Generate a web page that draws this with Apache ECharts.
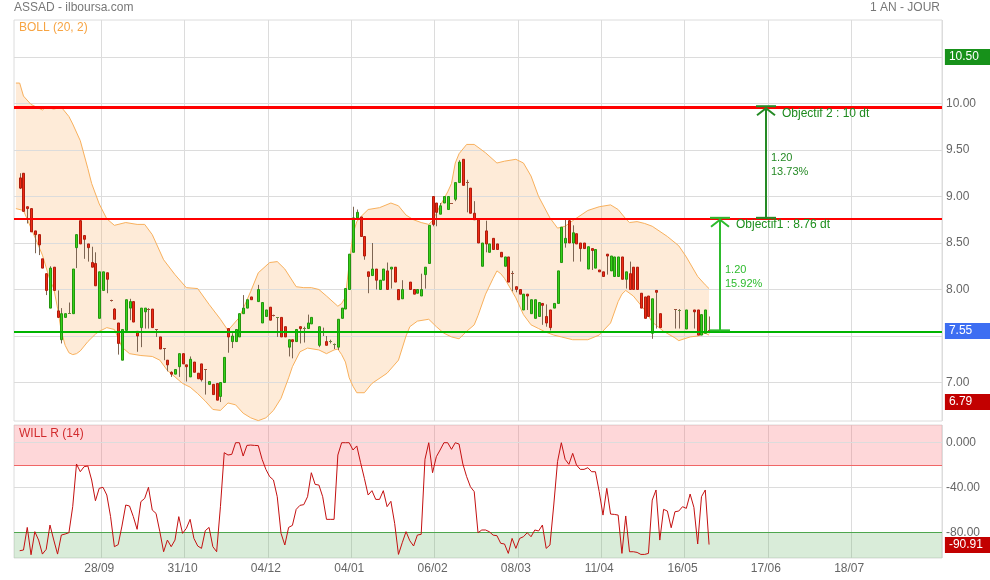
<!DOCTYPE html>
<html><head><meta charset="utf-8">
<script src="https://cdn.jsdelivr.net/npm/echarts@6/dist/echarts.min.js"></script>
<style>html,body{margin:0;padding:0;background:#fff}#c{width:990px;height:580px}</style>
</head><body><div id="c"></div>
<script>
// ---------- DATA ----------
const tickLabels = ['28/09','31/10','04/12','04/01','06/02','08/03','11/04','16/05','17/06','18/07'];
const tickStep = 22;            // one date label every 22 sessions
const slotCount = 245;          // sessions shown on the axis (incl. future)
const categories = Array.from({length: slotCount}, (_, i) => String(i));

// [open, close, low, high] per session, null = no bar
const candles = [
 null,
 [9.20,9.09,9.08,9.25],[9.25,8.84,8.84,9.25],[8.89,8.87,8.71,8.89],[8.87,8.62,8.62,8.87],[8.63,8.59,8.39,8.63],
 [8.59,8.48,8.37,8.59],[8.33,8.23,8.23,8.33],[8.17,7.99,7.94,8.17],[7.80,8.23,7.80,8.25],[8.24,7.99,7.99,8.24],
 [7.77,7.70,7.70,7.99],[7.46,7.74,7.42,7.80],[7.70,7.74,7.70,7.74],[7.75,7.75,7.74,7.86],[7.74,8.22,7.74,8.22],
 [8.45,8.59,8.23,8.59],[8.74,8.49,8.49,8.75],[8.58,8.54,8.33,8.58],[8.49,8.45,8.30,8.49],[8.29,8.24,8.24,8.46],
 [8.28,8.04,8.04,8.40],[7.69,8.19,7.69,8.19],[7.99,8.19,7.99,8.19],[8.18,8.11,7.96,8.18],[7.89,7.88,7.87,7.89],
 [7.79,7.68,7.68,7.80],[7.64,7.42,7.30,7.64],[7.24,7.57,7.24,7.57],[7.56,7.89,7.56,7.89],[7.80,7.87,7.67,7.90],
 [7.87,7.65,7.65,7.87],[7.55,7.50,7.33,7.55],[7.59,7.80,7.38,7.80],[7.76,7.80,7.58,7.80],[7.79,7.78,7.58,7.80],
 [7.79,7.59,7.59,7.79],[7.57,7.56,7.49,7.57],[7.49,7.36,7.36,7.49],[7.37,7.36,7.24,7.37],[7.24,7.19,7.12,7.24],
 [7.11,7.09,7.06,7.12],[7.09,7.14,7.09,7.14],[7.17,7.31,7.06,7.31],[7.31,7.20,7.20,7.31],[7.19,7.17,7.01,7.19],
 [7.06,7.25,7.06,7.28],[7.22,7.11,7.11,7.22],[7.10,7.04,7.04,7.10],[7.20,7.03,7.01,7.20],[7.14,7.13,6.87,7.14],
 [6.98,7.01,6.98,7.01],[6.98,6.87,6.87,6.98],[6.99,6.81,6.81,6.99],[6.85,7.00,6.79,7.00],[7.00,7.27,7.00,7.27],
 [7.58,7.49,7.32,7.58],[7.44,7.50,7.37,7.53],[7.44,7.57,7.44,7.57],[7.49,7.74,7.49,7.74],[7.74,7.80,7.74,7.94],
 [7.80,7.89,7.80,7.89],[7.92,7.89,7.89,7.92],null,[7.87,8.00,7.87,8.05],[7.64,7.86,7.64,7.86],
 [7.71,7.78,7.71,7.78],[7.81,7.67,7.67,7.81],[7.73,7.72,7.71,7.73],[7.69,7.70,7.49,7.70],[7.70,7.49,7.49,7.70],
 [7.60,7.49,7.49,7.60],[7.38,7.46,7.28,7.46],[7.46,7.44,7.26,7.46],[7.44,7.57,7.44,7.57],[7.60,7.58,7.42,7.60],
 [7.59,7.59,7.43,7.60],[7.58,7.64,7.58,7.73],[7.63,7.70,7.63,7.70],null,[7.40,7.60,7.38,7.60],
 [7.55,7.55,7.50,7.59],[7.44,7.40,7.40,7.50],[7.45,7.45,7.42,7.46],[7.41,7.41,7.36,7.42],[7.38,7.68,7.35,7.68],
 [7.69,7.80,7.69,7.80],[7.79,8.01,7.79,8.01],[8.00,8.38,8.00,8.38],[8.40,8.77,8.40,8.89],[8.77,8.83,8.77,8.86],
 [8.78,8.57,8.57,8.78],[8.57,8.36,8.32,8.57],[8.19,8.14,7.96,8.19],[8.15,8.22,8.15,8.50],[8.22,8.10,8.00,8.22],
 [8.00,8.10,8.00,8.10],[8.10,8.22,8.10,8.22],[8.20,8.00,8.00,8.29],[8.22,8.24,8.01,8.24],[8.24,8.08,8.08,8.24],
 [8.00,7.89,7.89,8.00],[7.90,8.00,7.90,8.10],null,[8.08,8.00,8.00,8.08],[8.00,7.95,7.95,8.00],
 [7.96,8.00,7.96,8.00],[7.93,8.00,7.93,8.17],[8.16,8.24,8.01,8.24],[8.28,8.69,8.28,8.69],[9.00,8.70,8.68,9.00],
 [8.93,8.83,8.68,8.93],[8.81,8.90,8.81,8.93],[8.93,9.00,8.93,9.00],[8.86,9.00,8.86,9.00],[8.93,8.92,8.92,8.93],
 [8.97,9.15,8.95,9.15],[9.15,9.37,9.15,9.39],[9.40,9.12,9.12,9.40],[9.16,9.15,8.83,9.18],[9.09,8.82,8.82,9.09],
 [8.82,8.75,8.75,8.95],[8.75,8.50,8.50,8.75],[8.25,8.50,8.25,8.50],[8.63,8.49,8.40,8.74],[8.40,8.49,8.40,8.49],
 [8.55,8.43,8.43,8.55],[8.49,8.43,8.43,8.49],[8.40,8.35,8.35,8.40],[8.25,8.35,8.25,8.35],[8.35,8.08,8.08,8.35],
 [8.18,8.17,7.98,8.20],[8.03,8.00,7.97,8.03],[8.00,7.95,7.95,8.00],[7.78,7.95,7.78,7.95],[7.95,7.93,7.78,7.95],
 [7.74,7.89,7.74,7.89],[7.69,7.89,7.69,7.89],[7.71,7.86,7.71,7.86],[7.85,7.83,7.62,7.85],[7.71,7.64,7.60,7.84],
 [7.78,7.59,7.56,7.78],[7.80,7.85,7.80,7.85],[7.85,8.20,7.85,8.20],[8.29,8.67,8.29,8.67],[8.50,8.55,8.45,8.76],
 [8.74,8.50,8.50,8.76],[8.50,8.61,8.30,8.69],[8.60,8.49,8.49,8.60],[8.50,8.44,8.30,8.50],[8.50,8.44,8.44,8.50],
 [8.22,8.46,8.22,8.46],[8.44,8.42,8.21,8.44],[8.23,8.43,8.23,8.43],[8.21,8.19,8.19,8.21],[8.19,8.14,8.14,8.19],
 [8.38,8.36,8.16,8.38],[8.20,8.36,8.20,8.36],[8.14,8.35,8.14,8.35],[8.14,8.35,8.14,8.35],[8.35,8.11,8.11,8.35],
 [8.11,8.19,8.01,8.19],[8.17,8.00,8.00,8.30],[8.24,8.00,8.00,8.24],[8.24,8.00,8.00,8.24],[7.96,7.80,7.80,7.96],
 [7.92,7.69,7.69,7.92],[7.93,7.71,7.71,7.93],[7.53,7.90,7.47,7.90],[7.99,7.97,7.58,7.99],[7.74,7.59,7.59,7.74],
 null,null,null,[7.79,7.78,7.58,7.79],[7.78,7.78,7.58,7.79],
 null,[7.575,7.78,7.575,7.78],null,[7.78,7.76,7.58,7.78],[7.78,7.51,7.51,7.78],
 [7.51,7.73,7.51,7.73],[7.53,7.78,7.53,7.78],[7.56,7.55,7.53,7.71]
];

// Bollinger (20, 2) band edges: [session, value]
const bollUpper = [[0,10.22],[1,10.22],[2,10.08],[4,9.99],[7,9.93],[8,9.96],[10,9.94],[12,9.96],[14,9.86],[15,9.78],
 [17,9.60],[19,9.30],[20,9.14],[22,8.92],[24,8.76],[26,8.69],[29,8.72],[32,8.70],[34,8.70],[36,8.59],[39,8.32],
 [42,8.16],[45,8.02],[48,8.01],[51,7.84],[54,7.68],[56,7.56],[59,7.70],[62,7.98],[64,8.18],[67,8.29],[69,8.30],
 [71,8.22],[74,8.03],[76,8.02],[78,8.02],[80,8.00],[82,7.93],[85,7.82],[86,7.85],[87,7.92],[88,8.28],[89,8.60],
 [90,8.73],[91,8.78],[93,8.86],[96,8.88],[99,8.93],[101,8.90],[103,8.80],[105,8.75],[107,8.72],[109,8.70],
 [110,8.74],[112,8.90],[114,9.05],[115,9.14],[116,9.36],[117,9.46],[119,9.56],[121,9.56],[124,9.47],[127,9.36],
 [129,9.38],[132,9.40],[134,9.36],[136,9.22],[138,9.00],[141,8.77],[143,8.66],[145,8.68],[147,8.74],[151,8.85],
 [154,8.89],[157,8.91],[159,8.86],[161,8.76],[162,8.72],[164,8.73],[166,8.71],[168,8.68],[172,8.57],[175,8.47],
 [177,8.35],[180,8.14],[182,8.05],[183,8.01]];
const bollLower = [[0,8.87],[2,8.85],[4,8.66],[7,8.37],[9,8.10],[10,8.01],[11,7.80],[12,7.55],[13,7.40],[14,7.32],
 [15,7.30],[16,7.31],[17,7.34],[19,7.44],[21,7.52],[22,7.55],[24,7.59],[26,7.57],[27,7.48],[28,7.38],[30,7.31],
 [33,7.29],[36,7.28],[38,7.24],[40,7.13],[42,7.06],[44,6.99],[46,6.95],[48,6.88],[50,6.80],[52,6.71],[54,6.70],
 [56,6.78],[58,6.76],[60,6.67],[62,6.62],[64,6.59],[66,6.62],[68,6.70],[70,6.83],[72,7.05],[73,7.17],[75,7.33],
 [77,7.37],[80,7.35],[82,7.31],[84,7.35],[85,7.36],[86,7.30],[87,7.22],[88,7.05],[89,6.96],[90,6.89],[92,6.89],
 [94,6.99],[98,7.10],[101,7.24],[103,7.50],[104,7.60],[106,7.66],[109,7.68],[111,7.60],[113,7.53],[115,7.49],
 [117,7.47],[119,7.55],[121,7.62],[122,7.72],[124,7.95],[126,8.12],[127,8.20],[128,8.17],[129,8.12],[131,7.98],
 [132,7.91],[134,7.73],[136,7.62],[138,7.58],[140,7.54],[142,7.51],[144,7.49],[147,7.46],[151,7.46],[154,7.51],
 [157,7.64],[159,7.87],[160,7.95],[161,7.99],[163,7.93],[166,7.78],[168,7.65],[171,7.55],[174,7.48],[175,7.45],
 [178,7.49],[180,7.50],[182,7.53],[183,7.51]];

// Williams %R (14), one value per session
const willR = [null,
 -96.4,-95.8,-75.6,-100,-79.4,-86.9,-99.4,-95.2,-73.5,-86.9,-99.4,-82.4,-81.5,-80.3,-57.1,-19.0,-25.9,-21.4,-20.8,-33.3,
 -51.8,-40.7,-39.8,-46.7,-66.0,-92.8,-91.0,-74.4,-55.6,-56.5,-66.0,-77.3,-52.6,-49.7,-39.8,-60.1,-63.1,-79.4,-97.3,-86.9,
 -92.8,-86.9,-66.0,-80.9,-76.5,-68.4,-85.4,-92.2,-94.3,-78.5,-75.6,-92.8,-97.3,-57.1,-8.9,-11.0,-10.4,0,0,-11.9,
 -2.4,-2.1,-2.4,-2.6,-14.8,-23.8,-30.3,-33.3,-48.2,-80.9,-91.3,-75.6,-73.8,-59.5,-55.9,-55.3,-48.2,-26.8,-37.2,-37.8,
 -48.2,-68.4,-68.4,-68.4,-11.0,0,0,0,-6.5,-2.9,-17.8,-31.8,-46.7,-42.8,-50.6,-50.6,-42.8,-57.1,-52.3,-72.0,
 -99.7,-89.3,-79.4,-87.5,-92.2,-82.4,-81.8,-14.8,0,-26.8,-12.5,-6.5,0,0,-5.9,0,-1.2,-19.0,-30.3,-39.3,
 -43.7,-80.3,-77.9,-77.9,-79.5,-82.5,-83.0,-89.8,-90.4,-98.8,-85.4,-94.3,-85.4,-83.9,-80.3,-83.9,-77.9,-78.8,-73.5,-94.3,
 -91.3,-55.6,-16.9,0,-14.8,-19.3,-9.5,-19.9,-23.8,-23.8,-22.3,-25.9,-25.9,-43.7,-64.6,-40.7,-63.7,-64.0,-64.6,-98.8,
 -65.4,-97.3,-97.3,-97.9,-99.7,-99.7,-98.8,-51.2,-42.2,-86.9,-59.5,-61.0,-75.9,-61.6,-61.0,-57.1,-58.6,-45.8,-57.7,-90.4,
 -48.2,-42.2,-90.91];

const priceTicks = [7.00, 7.50, 8.00, 8.50, 9.00, 9.50, 10.00, 10.50];
const willTicks = [0, -40];
const willZones = {overbought: -20, oversold: -80};
const support = 7.55;
const objective1 = 8.76;
const objective2 = 9.96;
const objectiveLabels = ['Objectif1 : 8.76 dt', 'Objectif 2 : 10 dt'];
const moveLabels = [['1.20', '15.92%'], ['1.20', '13.73%']];
const arrowSessions = [186, 198];
const priceBadges = [[10.50, '10.50', '#17911a'], [7.55, '7.55', '#3d6ef2'], [6.79, '6.79', '#c20000']];
const willBadge = [-90.91, '-90.91', '#c20000'];
const priceRange = [6.586, 10.898];
const willRange = [-102.9, 15.8];

// ---------- CHART ----------
const FONT = '"Liberation Sans", Arial, sans-serif';
const chart = echarts.init(document.getElementById('c'), null, {renderer: 'canvas'});

const candleData = [];
candles.forEach((c, i) => { if (c) candleData.push([i, c[0], c[1], c[2], c[3]]); });

const splitInterval = (idx) => idx > 1 && idx < 240 && (idx - 1) % tickStep === 0;
const labelInterval = (idx) => idx > 0 && idx % tickStep === 0;
const labelFor = (val) => { const n = Number(val) / tickStep - 1; return tickLabels[n] || ''; };
const GRID_LINE = '#dcdcdc';

function xAxisCfg(gridIndex, showLabels) {
  return {
    type: 'category', gridIndex, data: categories, boundaryGap: true,
    axisLine: {show: false}, axisTick: {show: false},
    axisLabel: {show: showLabels, interval: labelInterval, formatter: labelFor, color: '#666',
      fontSize: 12, fontFamily: FONT, margin: 5},
    splitLine: {show: true, interval: splitInterval, lineStyle: {color: GRID_LINE, width: 1}}
  };
}
function yAxisCfg(gridIndex, range) {
  return {type: 'value', gridIndex, position: 'right', min: range[0], max: range[1], scale: true,
    axisLine: {show: false}, axisTick: {show: false}, axisLabel: {show: false}, splitLine: {show: false}};
}
const labelBase = {show: true, position: 'end', distance: 4, color: '#666', fontSize: 12, fontFamily: FONT,
  padding: [0, 0, 6, 0]};

const option = {
  animation: false,
  backgroundColor: '#fff',
  grid: [
    {left: 14, right: 48, top: 20, height: 401, show: true, borderColor: GRID_LINE, borderWidth: 1, outerBoundsMode: 'none'},
    {left: 14, right: 48, top: 425, height: 133, show: true, borderColor: GRID_LINE, borderWidth: 1, outerBoundsMode: 'none'}
  ],
  xAxis: [xAxisCfg(0, false), xAxisCfg(1, true)],
  yAxis: [yAxisCfg(0, priceRange), yAxisCfg(1, willRange)],
  series: [
    { // band fill
      type: 'custom', xAxisIndex: 0, yAxisIndex: 0, z: 1, silent: true, clip: true,
      data: [[0, bollUpper[0][1]]],
      renderItem(params, api) {
        const up = bollUpper.map(p => api.coord(p));
        const lo = bollLower.map(p => api.coord(p)).reverse();
        return {type: 'polygon', shape: {points: up.concat(lo)}, style: {fill: 'rgba(249,170,90,0.24)'}};
      }
    },
    { // upper band + price grid
      name: 'BOLL up', type: 'line', xAxisIndex: 0, yAxisIndex: 0, z: 2, data: bollUpper,
      showSymbol: false, symbol: 'none', silent: true,
      lineStyle: {color: '#f8b05c', width: 1},
      markLine: {silent: true, symbol: ['none', 'none'], z: 2, lineStyle: {color: GRID_LINE, width: 1, type: 'solid'},
        label: Object.assign({}, labelBase, {formatter: p => Number(p.value).toFixed(2)}),
        data: priceTicks.map(v => ({yAxis: v}))}
    },
    { // lower band + objective lines
      name: 'BOLL low', type: 'line', xAxisIndex: 0, yAxisIndex: 0, z: 2, data: bollLower,
      showSymbol: false, symbol: 'none', silent: true,
      lineStyle: {color: '#f8b05c', width: 1},
      markLine: {silent: true, symbol: ['none', 'none'], z: 4, label: {show: false},
        data: [
          {yAxis: objective2, lineStyle: {color: '#ff0000', width: 3, type: 'solid'}},
          {yAxis: objective1, lineStyle: {color: '#ff0000', width: 2, type: 'solid'}},
          {yAxis: support, lineStyle: {color: '#00b400', width: 2, type: 'solid'}}
        ]}
    },
    { // candles
      type: 'custom', xAxisIndex: 0, yAxisIndex: 0, z: 3, clip: true,
      data: candleData, encode: {x: 0, y: [1, 2, 3, 4]},
      renderItem(params, api) {
        const i = api.value(0), o = api.value(1), c = api.value(2), l = api.value(3), h = api.value(4);
        const pO = api.coord([i, o]), pC = api.coord([i, c]), pL = api.coord([i, l]), pH = api.coord([i, h]);
        const x = Math.round(pO[0]) + 0.5;
        const children = [];
        children.push({type: 'line', shape: {x1: x, y1: pH[1], x2: x, y2: pL[1]}, style: {stroke: '#7d6552', lineWidth: 1}});
        const top = Math.min(pO[1], pC[1]), bot = Math.max(pO[1], pC[1]);
        if (bot - top < 1.2) {
          children.push({type: 'line', shape: {x1: x - 1.5, y1: Math.round(top) + 0.5, x2: x + 1.5, y2: Math.round(top) + 0.5},
            style: {stroke: c >= o ? '#6a8a40' : '#a0503a', lineWidth: 1}});
        } else {
          const up = c > o;
          children.push({type: 'rect', shape: {x: x - 1, y: top, width: 2, height: bot - top},
            style: {fill: up ? '#36d11a' : '#ee2a14', stroke: up ? '#23950e' : '#b01c0c', lineWidth: 1}});
        }
        return {type: 'group', children};
      }
    },
    { // Williams %R
      name: 'WILL R', type: 'line', xAxisIndex: 1, yAxisIndex: 1, z: 4, data: willR,
      showSymbol: false, symbol: 'none', silent: true, connectNulls: false,
      lineStyle: {color: '#c41010', width: 1},
      markArea: {silent: true, z: 1, data: [
        [{yAxis: willZones.overbought, itemStyle: {color: 'rgba(250,95,105,0.25)'}}, {yAxis: willRange[1]}],
        [{yAxis: willRange[0], itemStyle: {color: 'rgba(95,175,95,0.24)'}}, {yAxis: willZones.oversold}]
      ]},
      markLine: {silent: true, symbol: ['none', 'none'], z: 2,
        lineStyle: {color: GRID_LINE, width: 1, type: 'solid'},
        label: Object.assign({}, labelBase, {formatter: p => (Number(p.value) === 0 ? '0.000' : Number(p.value).toFixed(2))}),
        data: willTicks.map(v => ({yAxis: v})).concat([
          {yAxis: willZones.overbought, lineStyle: {color: '#f06666', width: 1}, label: {show: false}},
          {yAxis: willZones.oversold, lineStyle: {color: '#4ea64e', width: 1}}
        ])}
    }
  ]
};
chart.setOption(option);

// ---------- annotations (positions through the chart's own scales) ----------
const px = (i, v) => chart.convertToPixel({xAxisIndex: 0, yAxisIndex: 0}, [i, v]);
const pxW = (i, v) => chart.convertToPixel({xAxisIndex: 1, yAxisIndex: 1}, [i, v]);
const g = [
  {type: 'text', left: 14, top: 2, style: {text: 'ASSAD - ilboursa.com', fill: '#777', font: '12px ' + FONT}},
  {type: 'text', right: 50, top: 2, style: {text: '1 AN - JOUR', fill: '#777', font: '12px ' + FONT}},
  {type: 'text', left: 19, top: 22, style: {text: 'BOLL (20, 2)', fill: '#f7a443', font: '12px ' + FONT}},
  {type: 'text', left: 19, top: 428, style: {text: 'WILL R (14)', fill: '#c41a1a', font: '12px ' + FONT}}
];
const badgeX = px(0, 0)[0] + 928 + 1;   // right edge of plot area
function addBadge(y, text, color) {
  g.push({type: 'rect', z: 20, shape: {x: badgeX, y: Math.round(y) - 8, width: 47, height: 16}, style: {fill: color}});
  g.push({type: 'text', z: 21, x: badgeX + 4, y: Math.round(y), style: {text, fill: '#fff', font: '12px ' + FONT, verticalAlign: 'middle'}});
}
priceBadges.forEach(b => addBadge(px(0, b[0])[1], b[1], b[2]));
addBadge(pxW(0, willBadge[0])[1], willBadge[1], willBadge[2]);

const arrowDefs = [
  {i: arrowSessions[0], from: support, to: objective1, color: '#2dbb2d', textColor: '#1e8f1e', moves: moveLabels[0], label: objectiveLabels[0]},
  {i: arrowSessions[1], from: objective1, to: objective2, color: '#258a25', textColor: '#1e8a1e', moves: moveLabels[1], label: objectiveLabels[1]}
];
arrowDefs.forEach(a => {
  const b = px(a.i, a.from), t = px(a.i, a.to);
  const x = Math.round(b[0]);
  const yb = b[1], yt = t[1];
  const st = {stroke: a.color, lineWidth: 2};
  g.push({type: 'line', z: 10, shape: {x1: x, y1: yb, x2: x, y2: yt + 1}, style: st});
  g.push({type: 'polyline', z: 10, shape: {points: [[x - 9, yt + 8], [x, yt + 1], [x + 9, yt + 8]]}, style: Object.assign({fill: null}, st)});
  g.push({type: 'line', z: 10, shape: {x1: x - 10, y1: yt - 1, x2: x + 10, y2: yt - 1}, style: st});
  g.push({type: 'line', z: 10, shape: {x1: x - 10, y1: yb - 1, x2: x + 10, y2: yb - 1}, style: st});
  const mid = (yb + yt) / 2;
  g.push({type: 'text', z: 10, x: x + 5, y: mid - 12, style: {text: a.moves.join('\n'), fill: a.color, font: '11px ' + FONT, lineHeight: 14}});
  g.push({type: 'text', z: 10, x: x + 16, y: yt + 6, style: {text: a.label, fill: a.textColor, font: '12px ' + FONT, verticalAlign: 'middle'}});
});
chart.setOption({graphic: g});
</script></body></html>
